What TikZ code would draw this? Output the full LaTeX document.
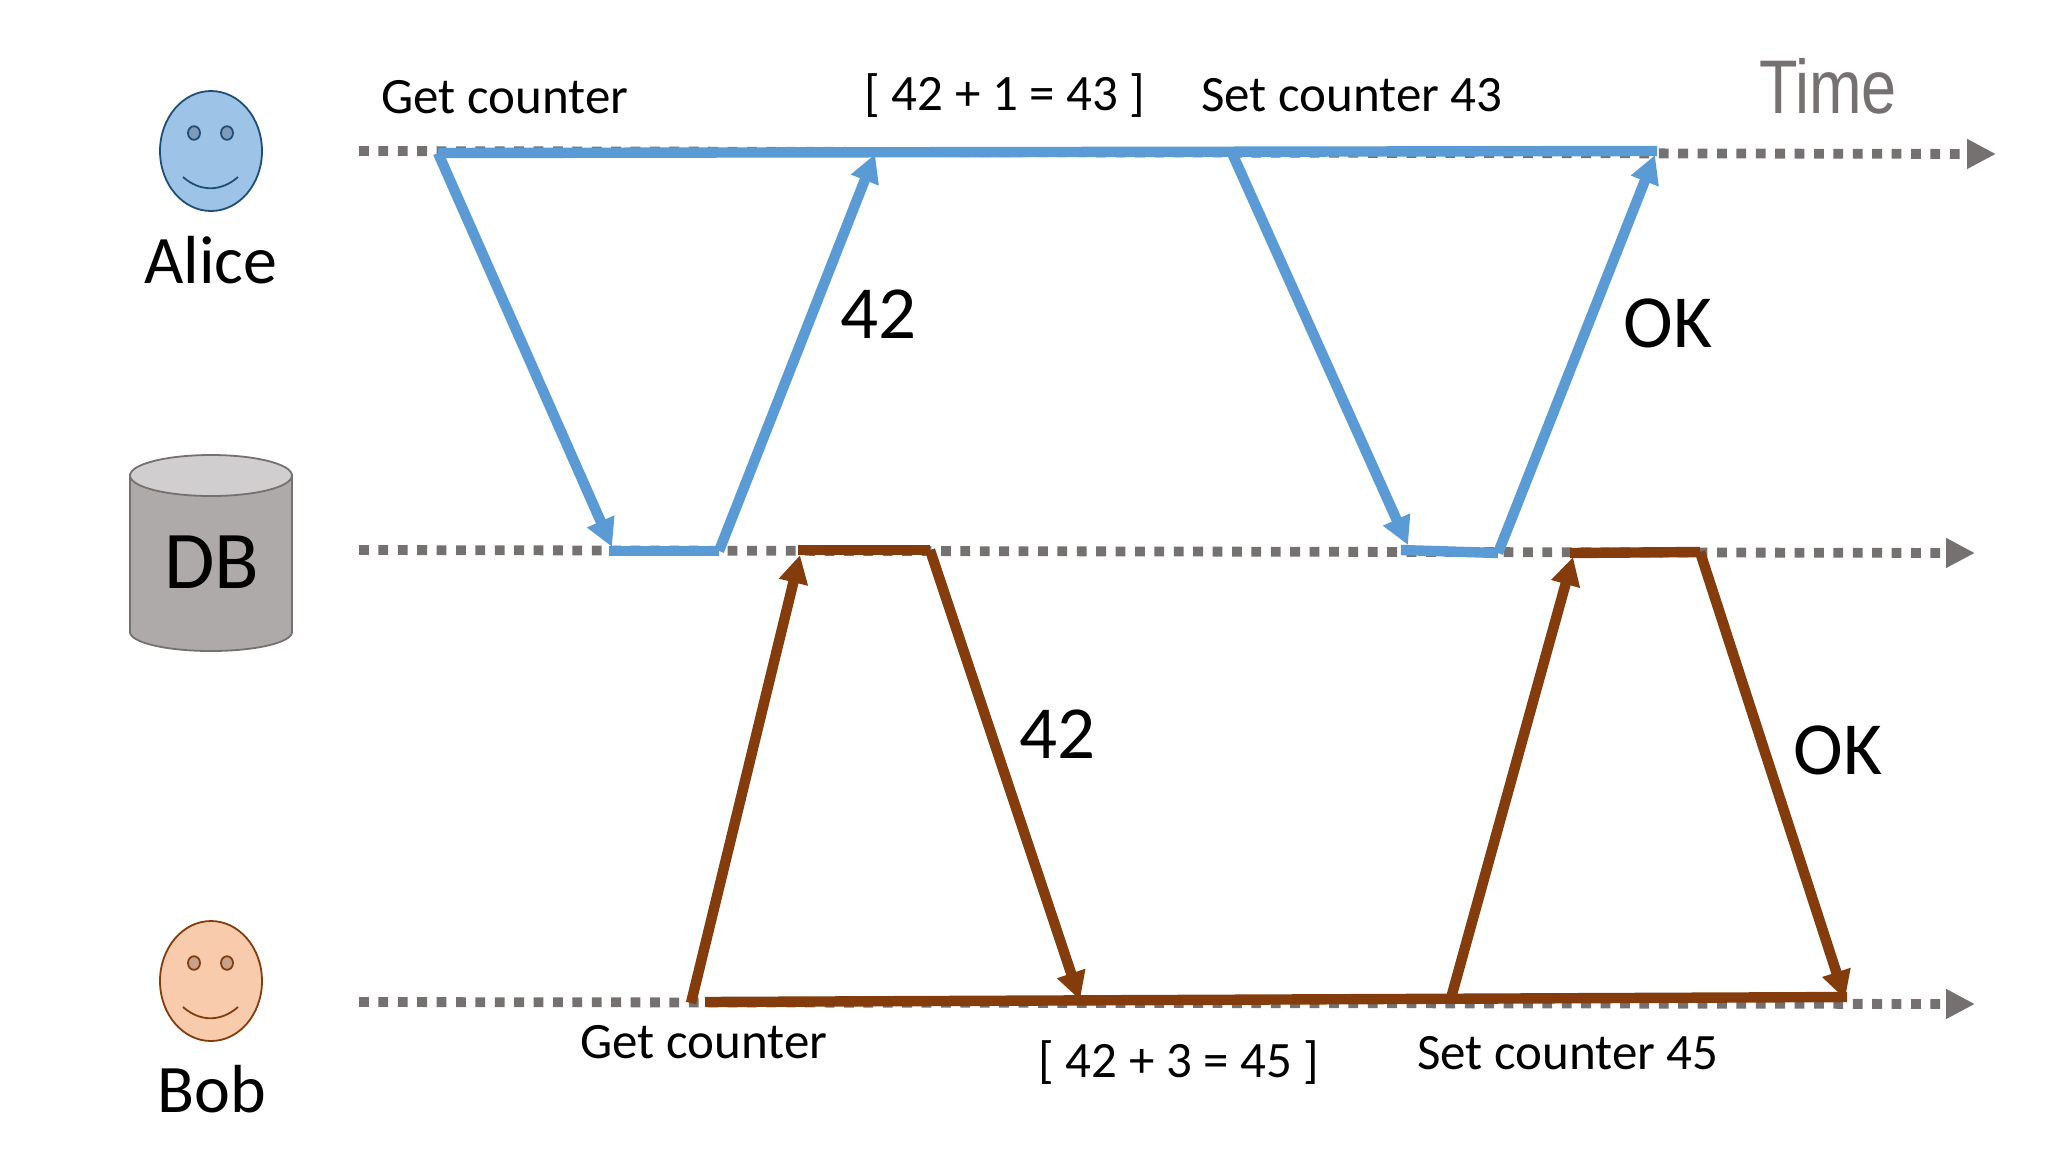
\documentclass[tikz,border=0pt]{standalone}
\usepackage{fontspec}
\setmainfont{Carlito}
\newfontfamily\timefont{Liberation Sans}
\usetikzlibrary{arrows.meta,shapes.geometric}
\definecolor{aliceblue}{HTML}{5B9BD5}
\definecolor{bobbrown}{HTML}{843C0C}
\definecolor{tgrey}{HTML}{767171}
\definecolor{dbfill}{HTML}{AEAAAA}
\definecolor{dbtop}{HTML}{D0CECE}
\definecolor{alicefill}{HTML}{9DC3E6}
\definecolor{alicestroke}{HTML}{1F4E79}
\definecolor{aliceeye}{HTML}{7E9CB8}
\definecolor{bobfill}{HTML}{F8CBAD}
\definecolor{bobeye}{HTML}{C6A28A}
\tikzset{
  timeline/.style={draw=tgrey,line width=4.9pt,dash pattern=on 4.9pt off 4.8pt,-{Triangle[length=14.5pt,width=14pt]}},
  blueline/.style={draw=aliceblue,line width=5.2pt},
  brownline/.style={draw=bobbrown,line width=5.2pt},
  blueflow/.style={blueline,-{Triangle[length=14pt,width=14pt]}},
  brownflow/.style={brownline,-{Triangle[length=14pt,width=14pt]}},
  small/.style={font=\fontsize{25.5}{30}\selectfont,anchor=base,inner sep=0pt},
  big/.style={font=\fontsize{37.5}{44}\selectfont,anchor=base,inner sep=0pt},
  who/.style={font=\fontsize{34}{40}\selectfont,anchor=base,inner sep=0pt},
  head/.style={ellipse,minimum width=51pt,minimum height=60pt,inner sep=0pt,line width=.9pt},
  eye/.style={ellipse,minimum width=6pt,minimum height=6.8pt,inner sep=0pt,line width=.9pt},
}
\newcommand{\facedraw}[5]{% name, centre y, fill, stroke, eye
  \node[head,draw=#4,fill=#3] (#1) at (211,#2) {};
  \node[eye,draw=#4,fill=#5] (#1eyeL) at (194,#2-18) {};
  \node[eye,draw=#4,fill=#5] (#1eyeR) at (227,#2-18) {};
  \draw[#4,line width=.9pt] (183,#2+26) .. controls (200,#2+41) and (221,#2+41) .. (238,#2+26);
}
\begin{document}
\begin{tikzpicture}[x=0.5pt,y=-0.5pt]
\useasboundingbox (0,0) rectangle (2048,1152);
\fill[white] (0,0) rectangle (2048,1152);

% time axes
\coordinate (A0) at (359,151); \coordinate (A1) at (1996,154);
\coordinate (D0) at (359,550); \coordinate (D1) at (1975,553);
\coordinate (B0) at (359,1002); \coordinate (B1) at (1975,1004);
\draw[timeline] (A0) -- (A1);
\draw[timeline] (D0) -- (D1);
\draw[timeline] (B0) -- (B1);

% Alice's requests
\coordinate (a1) at (438,153);
\coordinate (a2) at (612,547);
\coordinate (a3) at (609,551);
\coordinate (a4) at (719,551);
\coordinate (a5) at (875,154);
\coordinate (a6) at (1232,153);
\coordinate (a7) at (1408,545);
\coordinate (a8) at (1401,550);
\coordinate (a9) at (1498,553);
\coordinate (a10) at (1655,155);
\coordinate (a11) at (1657,151);
\draw[blueline] (a1) -- (a11);
\draw[blueflow] (a1) -- (a2);
\draw[blueline] (a3) -- (a4);
\draw[blueflow] (a4) -- (a5);
\draw[blueflow] (a6) -- (a7);
\draw[blueline] (a8) -- (a9);
\draw[blueflow] (a9) -- (a10);

% Bob's requests
\coordinate (b1) at (691,1003);
\coordinate (b2) at (800,555);
\coordinate (b3) at (798,550);
\coordinate (b4) at (930,550);
\coordinate (b5) at (1080,1000);
\coordinate (b6) at (705,1002);
\coordinate (b7) at (1847,997);
\coordinate (b8) at (1451,998);
\coordinate (b9) at (1573,557);
\coordinate (b10) at (1570,553);
\coordinate (b11) at (1700,552);
\coordinate (b12) at (1845,999);
\draw[brownline] (b6) -- (b7);
\draw[brownflow] (b1) -- (b2);
\draw[brownline] (b3) -- (b4);
\draw[brownflow] (b4) -- (b5);
\draw[brownflow] (b8) -- (b9);
\draw[brownline] (b10) -- (b11);
\draw[brownflow] (b11) -- (b12);

% actors
\facedraw{alice}{151}{alicefill}{alicestroke}{aliceeye}
\facedraw{bob}{981}{bobfill}{bobbrown}{bobeye}
\node[who] (alicename) at (211,283) {Alice};
\node[who] (bobname) at (212,1112) {Bob};

% database
\draw[tgrey,fill=dbfill,line width=.9pt] (130,475) -- (130,632) arc[start angle=180,end angle=0,x radius=81,y radius=19] -- (292,475) -- cycle;
\draw[tgrey,fill=dbtop,line width=.9pt] (211,475.5) ellipse[x radius=81,y radius=20.5];
\node[font=\fontsize{41}{48}\selectfont,anchor=base,inner sep=0pt] (dbname) at (212,588) {DB};

% labels
\node[small] (l1) at (505,113) {Get counter};
\node[small] (l2) at (1005,110) {[ 42 + 1 = 43 ]};
\node[small] (l3) at (1352,111) {Set counter 43};
\node[big] (l4) at (878,338) {42};
\node[big] (l5) at (1668,347) {OK};
\node[big] (l6) at (1057,758) {42};
\node[big] (l7) at (1838,774) {OK};
\node[small] (l8) at (704,1058) {Get counter};
\node[small] (l9) at (1179,1077) {[ 42 + 3 = 45 ]};
\node[small] (l10) at (1568,1069) {Set counter 45};
\node[anchor=base,inner sep=0pt,text=tgrey,xscale=.83,font=\timefont\fontsize{38}{44}\selectfont] (timelabel) at (1828,113) {Time};
\end{tikzpicture}
\end{document}
